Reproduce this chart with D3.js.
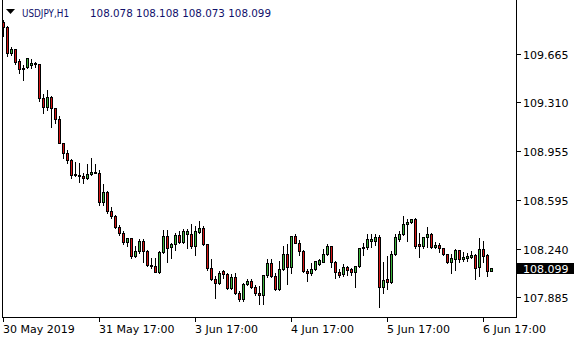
<!DOCTYPE html>
<html>
<head>
<meta charset="utf-8">
<script src="https://cdn.jsdelivr.net/npm/d3@7/dist/d3.min.js"></script>
<style>
  body { margin: 0; background: #fff; }
  svg { display: block; }
  text { font-family: "DejaVu Sans", Verdana, sans-serif; font-size: 11px; }
</style>
</head>
<body>
<svg id="chart" width="580" height="340"></svg>
<script>
const symbol = 'USDJPY,H1';

// hourly bars, 30 May 17:00 .. 6 Jun 19:00
const open = [109.899, 109.863, 109.674, 109.701, 109.616, 109.562, 109.567, 109.584, 109.599, 109.592,
  109.340, 109.274, 109.348, 109.272, 109.187, 109.015, 108.938, 108.889, 108.786, 108.782,
  108.772, 108.755, 108.784, 108.798, 108.796, 108.578, 108.652, 108.517, 108.481, 108.400,
  108.351, 108.285, 108.315, 108.185, 108.222, 108.295, 108.224, 108.119, 108.114, 108.066,
  108.212, 108.332, 108.249, 108.271, 108.339, 108.290, 108.344, 108.344, 108.261, 108.363,
  108.388, 108.271, 108.095, 108.014, 107.985, 108.075, 108.051, 107.948, 108.029, 107.912,
  107.868, 107.980, 108.002, 107.960, 107.916, 107.897, 108.046, 108.132, 108.041, 107.943,
  108.088, 108.200, 108.102, 108.332, 108.283, 108.224, 108.077, 108.058, 108.088, 108.126,
  108.143, 108.198, 108.258, 108.139, 108.070, 108.053, 108.102, 108.090, 108.066, 108.112,
  108.241, 108.249, 108.297, 108.297, 108.322, 107.956, 108.017, 107.997, 108.200, 108.309,
  108.346, 108.418, 108.432, 108.456, 108.273, 108.261, 108.322, 108.346, 108.253, 108.266,
  108.241, 108.200, 108.139, 108.163, 108.229, 108.161, 108.173, 108.180, 108.192, 108.107,
  108.234, 108.192, 108.078];
const high = [109.921, 109.877, 109.723, 109.711, 109.633, 109.592, 109.643, 109.636, 109.616, 109.601,
  109.377, 109.408, 109.364, 109.279, 109.218, 109.023, 108.967, 108.901, 108.881, 108.874,
  108.803, 108.865, 108.909, 108.865, 108.820, 108.718, 108.669, 108.551, 108.493, 108.420,
  108.376, 108.326, 108.326, 108.266, 108.315, 108.315, 108.234, 108.176, 108.176, 108.229,
  108.381, 108.381, 108.290, 108.363, 108.376, 108.388, 108.388, 108.425, 108.412, 108.449,
  108.412, 108.278, 108.168, 108.046, 108.083, 108.087, 108.066, 108.063, 108.070, 107.936,
  107.997, 108.022, 108.022, 107.980, 107.973, 108.053, 108.168, 108.168, 108.070, 108.156,
  108.266, 108.278, 108.339, 108.352, 108.308, 108.234, 108.095, 108.139, 108.156, 108.168,
  108.241, 108.278, 108.266, 108.156, 108.095, 108.132, 108.119, 108.107, 108.119, 108.253,
  108.290, 108.352, 108.352, 108.356, 108.346, 108.150, 108.192, 108.229, 108.356, 108.376,
  108.485, 108.461, 108.461, 108.469, 108.363, 108.334, 108.405, 108.363, 108.295, 108.290,
  108.246, 108.205, 108.205, 108.241, 108.234, 108.222, 108.217, 108.229, 108.205, 108.322,
  108.302, 108.205, 108.108];
const low = [109.797, 109.650, 109.657, 109.592, 109.524, 109.474, 109.562, 109.562, 109.567, 109.323,
  109.235, 109.255, 109.128, 109.162, 109.011, 108.901, 108.869, 108.755, 108.772, 108.731,
  108.719, 108.747, 108.779, 108.791, 108.559, 108.559, 108.502, 108.461, 108.388, 108.339,
  108.273, 108.258, 108.168, 108.178, 108.205, 108.143, 108.114, 108.095, 108.066, 108.063,
  108.205, 108.143, 108.168, 108.229, 108.278, 108.278, 108.241, 108.241, 108.192, 108.356,
  108.266, 108.083, 108.009, 107.875, 107.980, 108.022, 107.943, 107.943, 107.907, 107.858,
  107.858, 107.973, 107.948, 107.899, 107.833, 107.833, 108.033, 108.033, 107.936, 107.936,
  108.083, 107.980, 108.058, 108.278, 108.192, 108.070, 108.002, 108.046, 108.083, 108.119,
  108.139, 108.192, 108.107, 108.022, 108.033, 108.038, 108.046, 108.046, 107.960, 108.107,
  108.192, 108.234, 108.253, 108.266, 107.809, 107.916, 107.941, 107.989, 108.192, 108.297,
  108.339, 108.297, 108.425, 108.241, 108.176, 108.241, 108.253, 108.241, 108.241, 108.217,
  108.192, 108.132, 108.063, 108.083, 108.143, 108.151, 108.151, 108.168, 108.017, 108.038,
  108.143, 108.041, 108.073];
const close = [109.863, 109.674, 109.699, 109.608, 109.555, 109.555, 109.638, 109.601, 109.595, 109.340,
  109.274, 109.348, 109.272, 109.187, 109.015, 108.938, 108.889, 108.779, 108.782, 108.772,
  108.755, 108.784, 108.798, 108.796, 108.578, 108.652, 108.517, 108.481, 108.400, 108.351,
  108.285, 108.315, 108.185, 108.222, 108.295, 108.224, 108.119, 108.114, 108.066, 108.212,
  108.332, 108.241, 108.271, 108.339, 108.290, 108.368, 108.368, 108.261, 108.368, 108.388,
  108.271, 108.095, 108.014, 107.985, 108.058, 108.051, 107.948, 108.033, 107.912, 107.868,
  107.980, 108.002, 107.960, 107.912, 107.897, 108.046, 108.132, 108.041, 107.943, 108.088,
  108.200, 108.102, 108.332, 108.283, 108.224, 108.077, 108.058, 108.088, 108.148, 108.156,
  108.198, 108.258, 108.139, 108.066, 108.046, 108.102, 108.083, 108.066, 108.112, 108.241,
  108.253, 108.307, 108.309, 108.322, 107.956, 108.009, 107.997, 108.200, 108.322, 108.346,
  108.420, 108.437, 108.456, 108.261, 108.261, 108.327, 108.346, 108.253, 108.266, 108.241,
  108.200, 108.139, 108.168, 108.229, 108.161, 108.176, 108.185, 108.192, 108.100, 108.234,
  108.185, 108.077, 108.099];

const priceTicks = [109.665, 109.310, 108.955, 108.595, 108.240, 107.885];
const timeTickBars = [0, 24, 48, 72, 96, 120];
const timeTickLabels = ['30 May 2019', '31 May 17:00', '3 Jun 17:00', '4 Jun 17:00', '5 Jun 17:00', '6 Jun 17:00'];

const bullColor = '#3cb43c';
const bearColor = '#d41414';

const frame = {left: 2, right: 516, bottom: 317};
const svg = d3.select('#chart');

// one bar every 4px, first bar at pixel column 3
const x = d3.scaleLinear().domain([0, open.length - 1]).range([3.5, 3.5 + 4 * (open.length - 1)]);
const y = d3.scaleLinear().domain([107.885, 109.665]).range([297, 54]);
const py = v => Math.round(y(v)) + 0.5;

const bars = d3.range(open.length).map(i => ({i, o: open[i], h: high[i], l: low[i], c: close[i]}));

const g = svg.append('g').attr('shape-rendering', 'crispEdges');

// wicks
g.selectAll('line.wick').data(bars).join('line')
    .attr('class', 'wick')
    .attr('x1', d => x(d.i)).attr('x2', d => x(d.i))
    .attr('y1', d => py(d.h)).attr('y2', d => py(d.l))
    .attr('stroke', '#000').attr('stroke-width', 1);

// bodies
g.selectAll('rect.body').data(bars).join('rect')
    .attr('class', 'body')
    .attr('x', d => x(d.i) - 1)
    .attr('width', 2)
    .attr('y', d => py(Math.max(d.o, d.c)))
    .attr('height', d => Math.max(0, py(Math.min(d.o, d.c)) - py(Math.max(d.o, d.c))))
    .attr('fill', d => d.c >= d.o ? bullColor : bearColor)
    .attr('stroke', '#000').attr('stroke-width', 1);

// frame
g.append('path')
    .attr('d', `M${frame.left + 0.5},0 V${frame.bottom + 0.5} H${frame.right + 0.5} V0`)
    .attr('fill', 'none').attr('stroke', '#000');

// time axis
const xt = svg.append('g').attr('shape-rendering', 'crispEdges');
timeTickBars.forEach((b, k) => {
    xt.append('line')
        .attr('x1', x(b)).attr('x2', x(b))
        .attr('y1', frame.bottom + 1).attr('y2', frame.bottom + 5)
        .attr('stroke', '#000');
    xt.append('text')
        .attr('x', x(b) - 0.5).attr('y', 333)
        .attr('fill', '#000')
        .text(timeTickLabels[k]);
});

// price axis
const yt = svg.append('g').attr('shape-rendering', 'crispEdges');
priceTicks.forEach(p => {
    yt.append('line')
        .attr('x1', frame.right + 1).attr('x2', frame.right + 5)
        .attr('y1', py(p)).attr('y2', py(p))
        .attr('stroke', '#000');
    yt.append('text')
        .attr('x', 523).attr('y', py(p) + 4)
        .attr('fill', '#000')
        .text(p.toFixed(3));
});

// last price marker
const last = close[close.length - 1];
yt.append('rect')
    .attr('x', frame.right + 1).attr('y', py(last) - 5.5)
    .attr('width', 57).attr('height', 11)
    .attr('fill', '#000');
yt.append('text')
    .attr('x', 523).attr('y', py(last) + 4)
    .attr('fill', '#fff')
    .text(last.toFixed(3));

// header: symbol + OHLC of the last bar
const n = open.length - 1;
svg.append('path')
    .attr('d', 'M6,9 L15,9 L10.5,14 Z')
    .attr('fill', '#000');
svg.append('text')
    .attr('x', 22).attr('y', 16.5)
    .attr('fill', '#10106b')
    .style('font-size', '10.6px')
    .attr('textLength', 47).attr('lengthAdjust', 'spacingAndGlyphs')
    .text(symbol);
svg.append('text')
    .attr('x', 90).attr('y', 16.5)
    .attr('fill', '#10106b')
    .style('font-size', '10.4px')
    .attr('textLength', 181).attr('lengthAdjust', 'spacingAndGlyphs')
    .text([open[n], high[n], low[n], close[n]].map(v => v.toFixed(3)).join(' '));
</script>
</body>
</html>
